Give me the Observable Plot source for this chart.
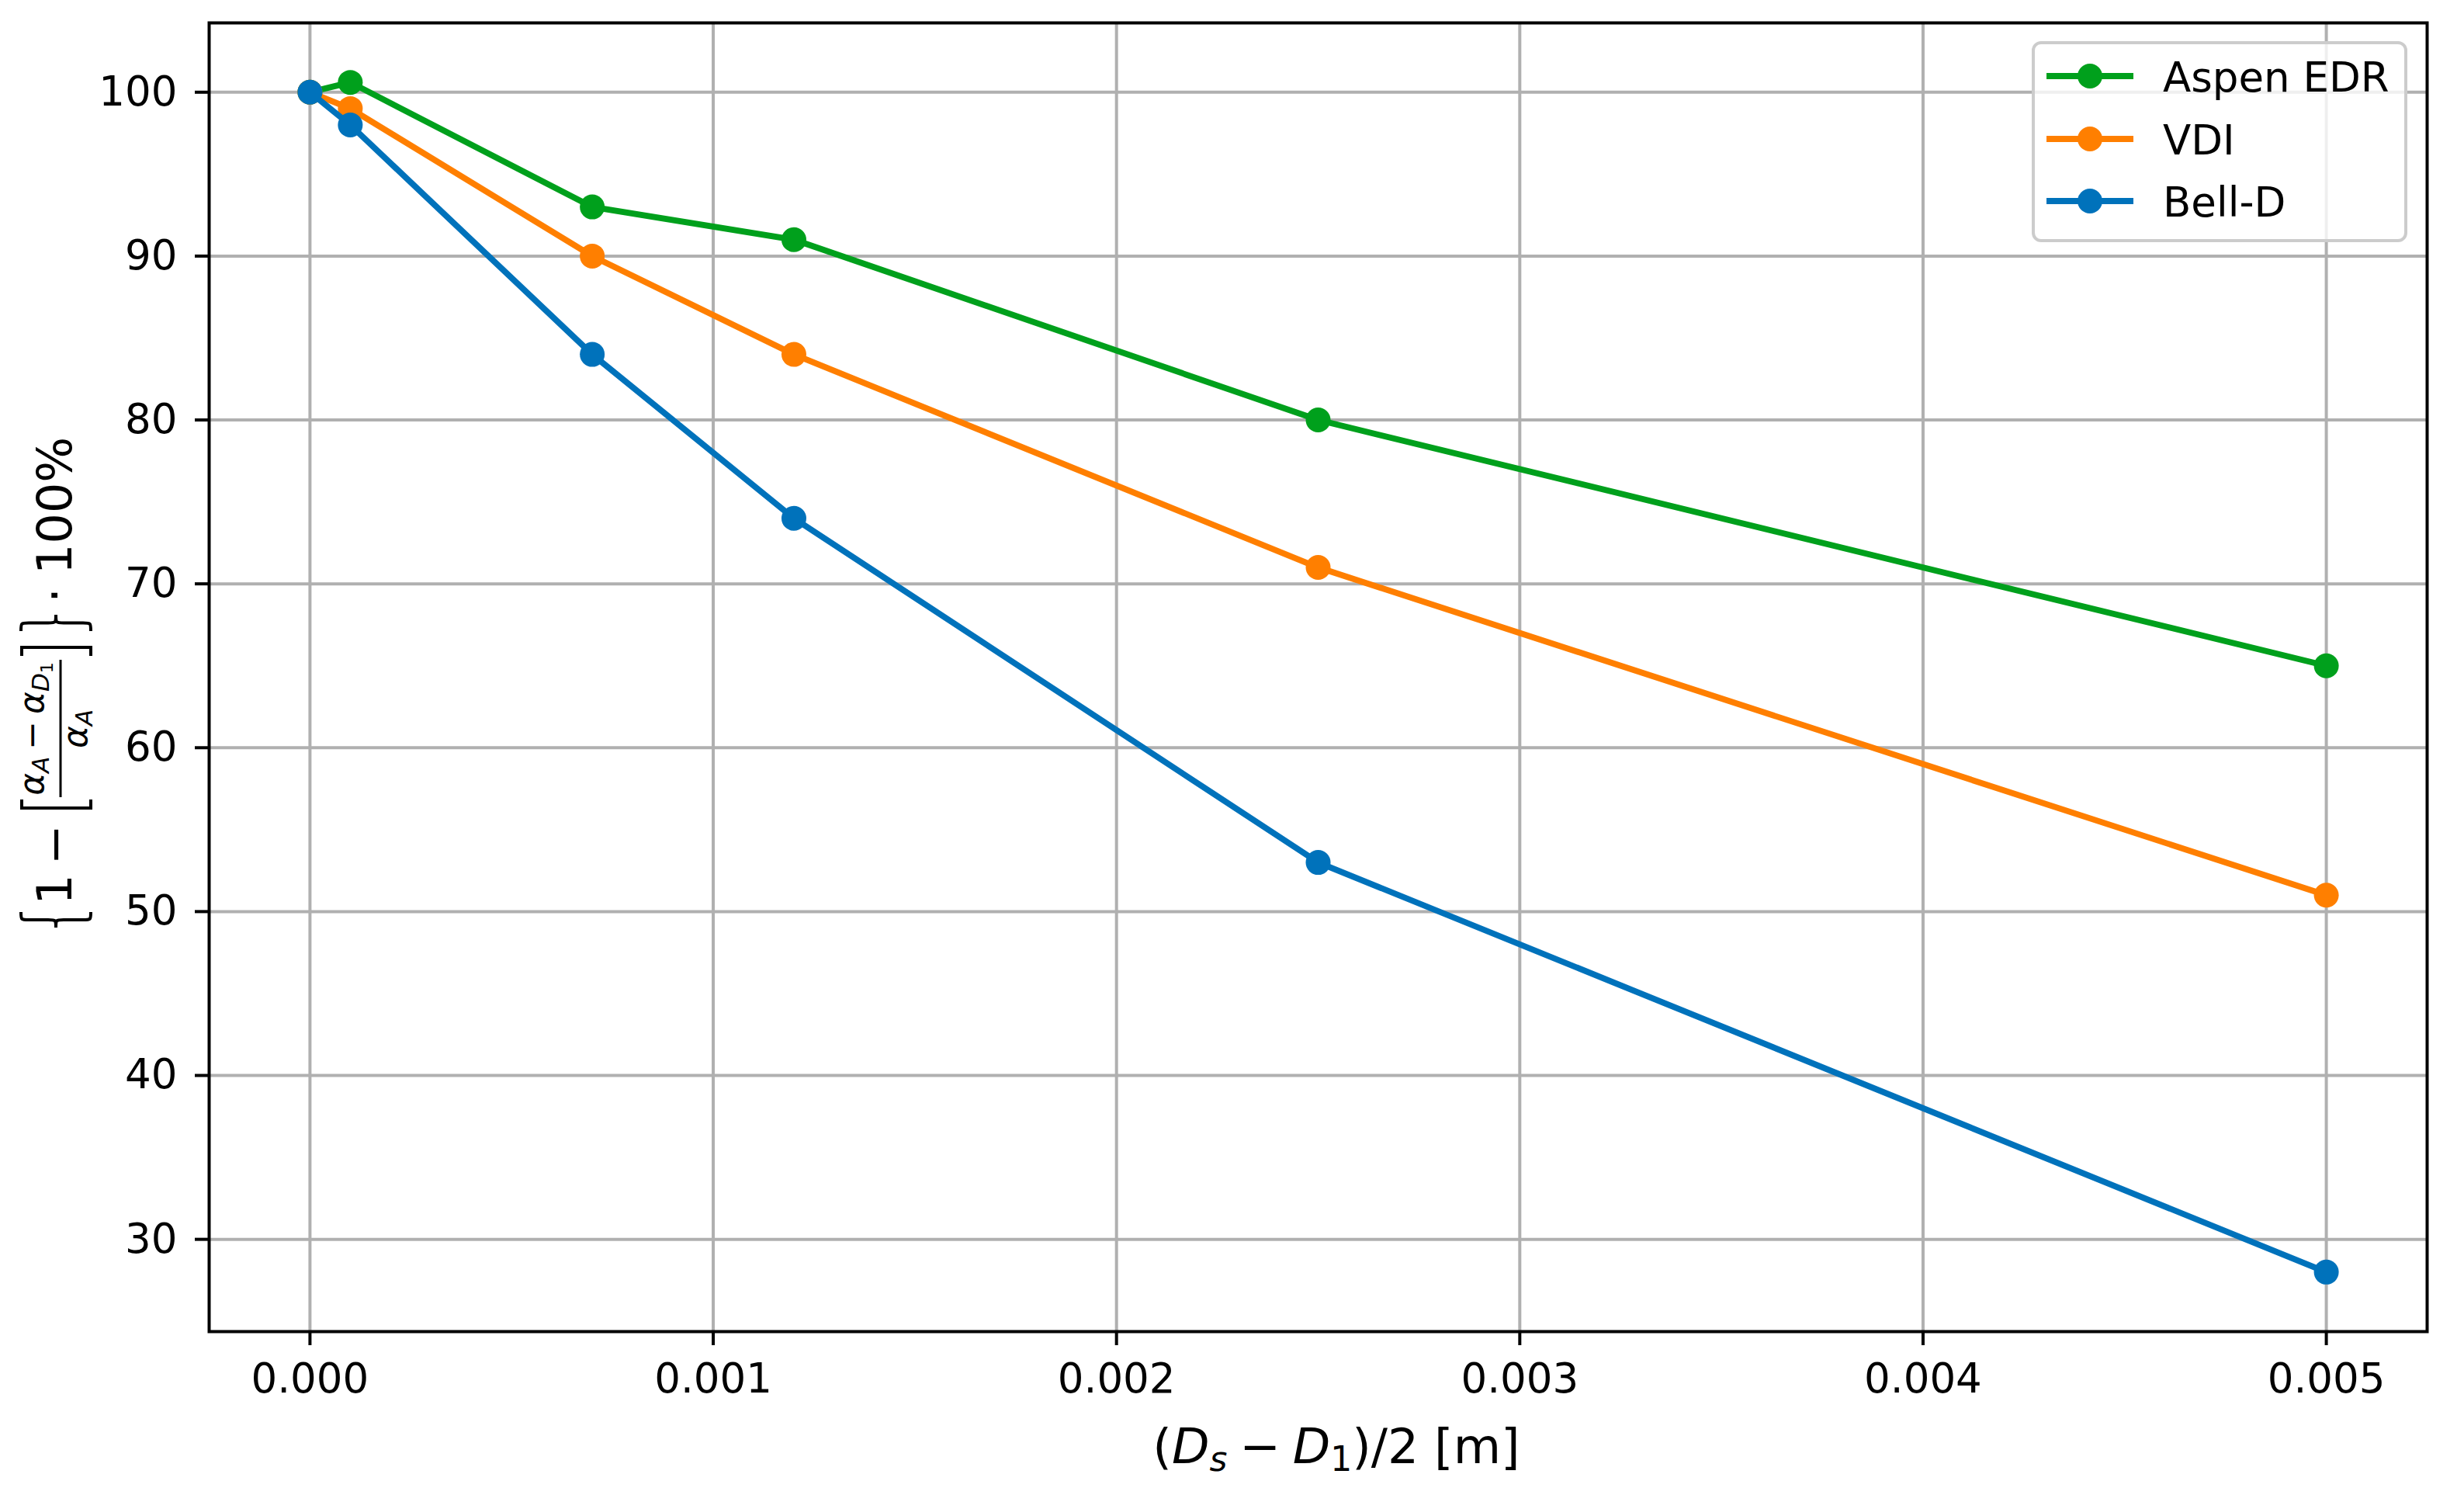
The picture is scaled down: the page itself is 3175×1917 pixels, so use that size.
<!DOCTYPE html>
<html>
<head>
<meta charset="utf-8">
<script src="https://cdn.jsdelivr.net/npm/d3@7"></script>
<script src="https://cdn.jsdelivr.net/npm/@observablehq/plot@0.6"></script>
<style>
html, body { margin: 0; padding: 0; background: #fff; }
#chart svg { display: block; }
</style>
</head>
<body>
<div id="chart"></div>
<script>
// ---- data ----
const xValues = [0, 0.0001, 0.0007, 0.0012, 0.0025, 0.005];
const seriesNames = ["Aspen EDR", "VDI", "Bell-D"];
const aspenValues = [100, 100.6, 93, 91, 80, 65];
const vdiValues = [100, 99, 90, 84, 71, 51];
const bellValues = [100, 98, 84, 74, 53, 28];
const seriesColors = ["#00a01c", "#ff7f00", "#0072bb"];
const xTicks = [0, 0.001, 0.002, 0.003, 0.004, 0.005];
const yTicks = [30, 40, 50, 60, 70, 80, 90, 100];

const seriesValues = [aspenValues, vdiValues, bellValues];
const rows = [];
seriesNames.forEach((s, i) => xValues.forEach((x, j) => rows.push({series: s, x, y: seriesValues[i][j]})));

// ---- layout ----
const W = 3175, H = 1917;
const mL = 269, mR = 48, mT = 29, mB = 202;

const seriesMarks = seriesNames.flatMap((s, i) => {
  const d = rows.filter(r => r.series === s);
  return [
    Plot.line(d, {x: "x", y: "y", stroke: seriesColors[i], strokeWidth: 7.8, strokeLinejoin: "round"}),
    Plot.dot(d, {x: "x", y: "y", r: 16, fill: seriesColors[i], stroke: "none"})
  ];
});

const chart = Plot.plot({
  width: W,
  height: H,
  marginLeft: mL,
  marginRight: mR,
  marginTop: mT,
  marginBottom: mB,
  style: {fontFamily: "DejaVu Sans", fontSize: "53px", background: "white", color: "black"},
  x: {domain: [-0.00025, 0.00525]},
  y: {domain: [24.37, 104.23]},
  marks: [
    Plot.gridX(xTicks, {stroke: "#b0b0b0", strokeOpacity: 1, strokeWidth: 4}),
    Plot.gridY(yTicks, {stroke: "#b0b0b0", strokeOpacity: 1, strokeWidth: 4}),
    ...seriesMarks,
    Plot.frame({stroke: "black", strokeWidth: 4}),
    Plot.axisX(xTicks, {tickFormat: d => d.toFixed(3), tickSize: 18, tickPadding: 23, fontSize: 53, strokeWidth: 4, label: null}),
    Plot.axisY(yTicks, {tickFormat: d => String(d), tickSize: 18, tickPadding: 23, fontSize: 53, strokeWidth: 4, label: null})
  ]
});
document.getElementById("chart").appendChild(chart);

const svg = d3.select(chart);

// ---- x label ----
const xl = svg.append("text")
  .attr("x", 1722).attr("y", 1885)
  .attr("text-anchor", "middle")
  .attr("font-family", "DejaVu Sans")
  .attr("font-size", 63)
  .attr("fill", "black");
xl.append("tspan").text("(");
xl.append("tspan").attr("font-style", "italic").text("D");
xl.append("tspan").attr("font-style", "italic").attr("font-size", 44).attr("dy", 10).text("s");
xl.append("tspan").attr("dy", -10).text("\u2005\u2212\u2005");
xl.append("tspan").attr("font-style", "italic").text("D");
xl.append("tspan").attr("font-size", 44).attr("dy", 10).text("1");
xl.append("tspan").attr("dy", -10).text(")/2 [m]");

// ---- y label (rotated math) ----
const g = svg.append("g")
  .attr("transform", "translate(92,879) rotate(-90)")
  .attr("font-family", "DejaVu Sans")
  .attr("fill", "black");

function brace(tipU, endU, v0, v1, vm) {
  const um = (tipU + endU) / 2;
  return `M${endU},${v0} C${um},${v0} ${um},${v0} ${um},${v0 + 10}` +
         ` L${um},${vm - 10} C${um},${vm} ${um},${vm} ${tipU},${vm}` +
         ` C${um},${vm} ${um},${vm} ${um},${vm + 10}` +
         ` L${um},${v1 - 10} C${um},${v1} ${um},${v1} ${endU},${v1}`;
}
g.append("path").attr("d", brace(-316, -296, -65, 25, -20))
  .attr("fill", "none").attr("stroke", "black").attr("stroke-width", 4);
g.append("path").attr("d", brace(87, 66, -65, 25, -20))
  .attr("fill", "none").attr("stroke", "black").attr("stroke-width", 4);

g.append("text").attr("x", -267).attr("y", 0).attr("text-anchor", "middle").attr("font-size", 62).text("1");
g.append("text").attr("x", -209).attr("y", 0).attr("text-anchor", "middle").attr("font-size", 62).text("\u2212");

// brackets
g.append("path").attr("d", "M-151,-64 L-162,-64 L-162,25 L-151,25")
  .attr("fill", "none").attr("stroke", "black").attr("stroke-width", 4);
g.append("path").attr("d", "M34,-64 L45,-64 L45,25 L34,25")
  .attr("fill", "none").attr("stroke", "black").attr("stroke-width", 4);

// fraction
g.append("line").attr("x1", -148).attr("x2", 29).attr("y1", -14).attr("y2", -14)
  .attr("stroke", "black").attr("stroke-width", 3);
const num = g.append("text").attr("x", -60).attr("y", -36).attr("text-anchor", "middle").attr("font-size", 44);
num.append("tspan").attr("font-style", "italic").text("\u03b1");
num.append("tspan").attr("font-style", "italic").attr("font-size", 31).attr("dy", 7).text("A");
num.append("tspan").attr("dy", -7).text("\u2009\u2212\u2009");
num.append("tspan").attr("font-style", "italic").text("\u03b1");
num.append("tspan").attr("font-style", "italic").attr("font-size", 31).attr("dy", 7).text("D");
num.append("tspan").attr("font-size", 22).attr("dy", 5).text("1");
const den = g.append("text").attr("x", -60).attr("y", 20).attr("text-anchor", "middle").attr("font-size", 44);
den.append("tspan").attr("font-style", "italic").text("\u03b1");
den.append("tspan").attr("font-style", "italic").attr("font-size", 31).attr("dy", 7).text("A");

g.append("text").attr("x", 112).attr("y", 0).attr("text-anchor", "middle").attr("font-size", 62).text("\u00b7");
g.append("text").attr("x", 139).attr("y", 0).attr("text-anchor", "start").attr("font-size", 62).text("100%");

// ---- legend ----
const lg = svg.append("g").attr("font-family", "DejaVu Sans");
lg.append("rect")
  .attr("x", 2620).attr("y", 55).attr("width", 480).attr("height", 255)
  .attr("rx", 10).attr("ry", 10)
  .attr("fill", "white").attr("fill-opacity", 0.8)
  .attr("stroke", "#cccccc").attr("stroke-width", 4);
const rowY = [98, 179, 259];
seriesNames.forEach((s, i) => {
  lg.append("line").attr("x1", 2637).attr("x2", 2749).attr("y1", rowY[i]).attr("y2", rowY[i])
    .attr("stroke", seriesColors[i]).attr("stroke-width", 7.8);
  lg.append("circle").attr("cx", 2693).attr("cy", rowY[i]).attr("r", 16).attr("fill", seriesColors[i]);
  lg.append("text").attr("x", 2787).attr("y", rowY[i] + 20)
    .attr("text-anchor", "start").attr("font-size", 53).attr("fill", "black").text(s);
});
</script>
</body>
</html>
